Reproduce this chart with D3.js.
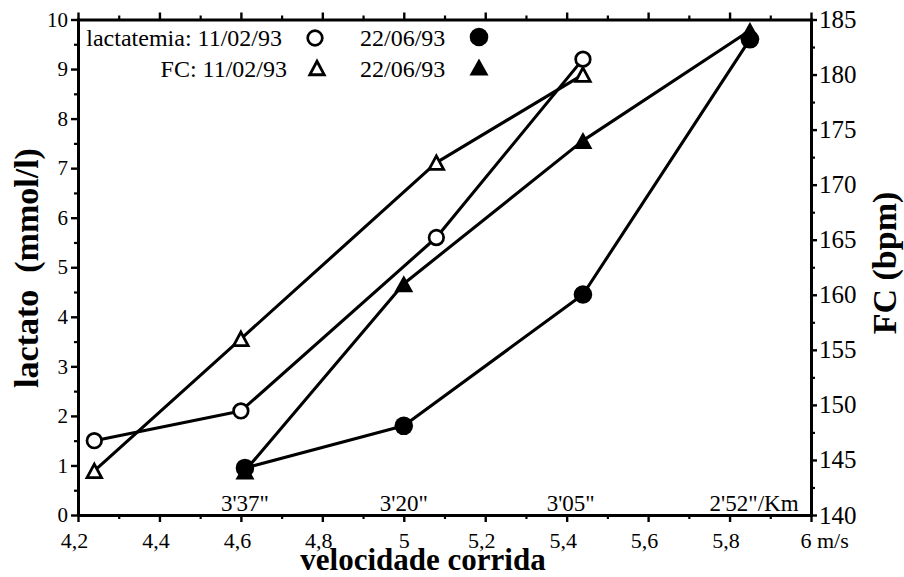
<!DOCTYPE html>
<html>
<head>
<meta charset="utf-8">
<script src="https://cdn.jsdelivr.net/npm/d3@7"></script>
<style>
  html, body { margin: 0; padding: 0; background: #fff; }
  svg { display: block; }
  text { font-family: "Liberation Serif", "Times New Roman", serif; fill: #000; }
</style>
</head>
<body>
<svg id="chart" width="904" height="577"></svg>
<script>
// Running speed (m/s) at each stage of the two tests
const speedFeb = [4.24, 4.6, 5.08, 5.44];
const speedJun = [4.61, 5.0, 5.44, 5.85];
// Blood lactate (mmol/l)
const lactFeb = [1.5, 2.1, 5.6, 9.2];
const lactJun = [0.95, 1.8, 4.45, 9.6];
// Heart rate (bpm)
const fcFeb = [144, 156, 172, 180];
const fcJun = [144, 161, 174, 184];

// Pace per km marked along the speed axis
const paceLabels = ["3'37\"", "3'20\"", "3'05\"", "2'52\""];
const paceSpeeds = [4.61, 5.0, 5.41, 5.81];
const paceUnit = "/Km";

// Axis ticks
const xTicks = [4.2, 4.4, 4.6, 4.8, 5, 5.2, 5.4, 5.6, 5.8, 6];
const xTickLabels = ["4,2", "4,4", "4,6", "4,8", "5", "5,2", "5,4", "5,6", "5,8", "6 m/s"];
const xMinorTicks = [4.3, 4.5, 4.7, 4.9, 5.1, 5.3, 5.5, 5.7, 5.9];
const yLeftTicks = [0, 1, 2, 3, 4, 5, 6, 7, 8, 9, 10];
const yLeftMinor = [0.5, 1.5, 2.5, 3.5, 4.5, 5.5, 6.5, 7.5, 8.5, 9.5];
const yRightTicks = [140, 145, 150, 155, 160, 165, 170, 175, 180, 185];
const yRightMinor = [142.5, 147.5, 152.5, 157.5, 162.5, 167.5, 172.5, 177.5, 182.5];

// Legend text
const legendSeries = ["lactatemia: 11/02/93", "FC: 11/02/93"];
const legendSecond = ["22/06/93", "22/06/93"];

// Titles
const xTitle = "velocidade corrida";
const yLeftTitle = "lactato\u00a0 (mmol/l)";
const yRightTitle = "FC (bpm)";

// ---- layout ----
const L = 78, R = 811, T = 19.5, B = 515;
const svg = d3.select("#chart");

const x = d3.scaleLinear().domain([4.2, 6]).range([L, R]);
const yL = d3.scaleLinear().domain([0, 10]).range([B, T]);
const yR = d3.scaleLinear().domain([140, 185]).range([B, T]);

function styleAxis(g, fontSize) {
  g.attr("font-family", null).attr("font-size", fontSize);
  g.select(".domain").attr("stroke", "#000").attr("stroke-width", 3).attr("stroke-linecap", "square");
  g.selectAll(".tick line").attr("stroke", "#000").attr("stroke-width", 2.4);
  g.selectAll(".tick text").attr("fill", "#000");
}
function minorAxis(axis, tr) {
  const g = svg.append("g").attr("transform", tr).call(axis);
  g.select(".domain").remove();
  g.selectAll(".tick line").attr("stroke", "#000").attr("stroke-width", 2.2);
  g.selectAll(".tick text").remove();
}

// bottom speed axis
const gx = svg.append("g").attr("transform", `translate(0,${B})`)
  .call(d3.axisBottom(x).tickValues(xTicks).tickFormat((d, i) => xTickLabels[i])
    .tickSize(7).tickPadding(10).tickSizeOuter(0));
styleAxis(gx, 22);
gx.selectAll(".tick text").each(function (d, i) {
  const t = d3.select(this);
  const lab = xTickLabels[i];
  if (lab.indexOf(" ") > 0) t.attr("text-anchor", "start").attr("dx", -11);
  else if (lab.indexOf(",") > 0) t.attr("dx", -4);
});
minorAxis(d3.axisBottom(x).tickValues(xMinorTicks).tickSize(4), `translate(0,${B})`);

// top frame with ticks
const gt = svg.append("g").attr("transform", `translate(0,${T})`)
  .call(d3.axisTop(x).tickValues(xTicks).tickFormat("").tickSize(7).tickSizeOuter(0));
styleAxis(gt, 22);
minorAxis(d3.axisTop(x).tickValues(xMinorTicks).tickSize(4), `translate(0,${T})`);

// left lactate axis
const gl = svg.append("g").attr("transform", `translate(${L},0)`)
  .call(d3.axisLeft(yL).tickValues(yLeftTicks).tickFormat(d3.format("d"))
    .tickSize(7).tickPadding(3).tickSizeOuter(0));
styleAxis(gl, 21);
minorAxis(d3.axisLeft(yL).tickValues(yLeftMinor).tickSize(4), `translate(${L},0)`);

// right heart-rate axis
const gr = svg.append("g").attr("transform", `translate(${R},0)`)
  .call(d3.axisRight(yR).tickValues(yRightTicks).tickFormat(d3.format("d"))
    .tickSize(6).tickPadding(2).tickSizeOuter(0));
styleAxis(gr, 25);
minorAxis(d3.axisRight(yR).tickValues(yRightMinor).tickSize(4), `translate(${R},0)`);

// pace annotations above the speed axis
const paceG = svg.append("g").attr("font-size", 23);
paceLabels.forEach((p, i) => {
  const t = paceG.append("text").attr("y", B - 4);
  const main = t.append("tspan").text(p);
  if (i === paceLabels.length - 1) {
    t.append("tspan").text(paceUnit);
    const w = main.node().getComputedTextLength();
    t.attr("x", x(paceSpeeds[i]) - w / 2);
  } else {
    t.attr("x", x(paceSpeeds[i])).attr("text-anchor", "middle");
  }
});

// series lines
const series = [
  { s: speedFeb, v: lactFeb, y: yL, shape: "circle", filled: false },
  { s: speedFeb, v: fcFeb, y: yR, shape: "triangle", filled: false },
  { s: speedJun, v: lactJun, y: yL, shape: "circle", filled: true },
  { s: speedJun, v: fcJun, y: yR, shape: "triangle", filled: true }
];
series.forEach(sr => {
  const pts = sr.s.map((s, i) => [s, sr.v[i]]);
  svg.append("path")
    .attr("d", d3.line().x(d => x(d[0])).y(d => sr.y(d[1]))(pts))
    .attr("fill", "none").attr("stroke", "#000").attr("stroke-width", 3.1)
    .attr("stroke-linejoin", "round");
});

function triPath(w, h) {
  return `M0,${-h / 2}L${w / 2},${h / 2}L${-w / 2},${h / 2}Z`;
}
function drawMarker(g, shape, filled, cx, cy) {
  if (shape === "circle") {
    g.append("circle").attr("cx", cx).attr("cy", cy)
      .attr("r", filled ? 9.3 : 7.3)
      .attr("fill", filled ? "#000" : "#fff")
      .attr("stroke", "#000").attr("stroke-width", filled ? 0 : 2.7);
  } else {
    g.append("path").attr("transform", `translate(${cx},${cy})`)
      .attr("d", filled ? triPath(19, 17) : triPath(14.5, 13.5))
      .attr("fill", filled ? "#000" : "#fff")
      .attr("stroke", "#000").attr("stroke-width", filled ? 0 : 2.8)
      .attr("stroke-linejoin", "miter");
  }
}

// markers: triangles first, circles on top
const markG = svg.append("g");
[1, 3, 0, 2].forEach(k => {
  const sr = series[k];
  sr.s.forEach((s, i) => drawMarker(markG, sr.shape, sr.filled, x(s), sr.y(sr.v[i])));
});

// legend
const leg = svg.append("g").attr("font-size", 24);
leg.append("text").attr("x", 282).attr("y", 46).attr("text-anchor", "end").text(legendSeries[0]);
leg.append("text").attr("x", 287).attr("y", 77).attr("text-anchor", "end").text(legendSeries[1]);
leg.append("text").attr("x", 360).attr("y", 46).text(legendSecond[0]);
leg.append("text").attr("x", 360).attr("y", 77).text(legendSecond[1]);
drawMarker(leg, "circle", false, 315, 38);
drawMarker(leg, "circle", true, 479, 37);
drawMarker(leg, "triangle", false, 317, 68);
drawMarker(leg, "triangle", true, 479, 67);

// axis titles
svg.append("text").attr("x", 423).attr("y", 570).attr("text-anchor", "middle")
  .attr("font-size", 31).attr("font-weight", "bold").text(xTitle);
svg.append("text").attr("transform", "translate(38,268) rotate(-90)").attr("text-anchor", "middle")
  .attr("font-size", 34).attr("font-weight", "bold").text(yLeftTitle);
svg.append("text").attr("transform", "translate(896,263) rotate(-90)").attr("text-anchor", "middle")
  .attr("font-size", 34).attr("font-weight", "bold").text(yRightTitle);
</script>
</body>
</html>
